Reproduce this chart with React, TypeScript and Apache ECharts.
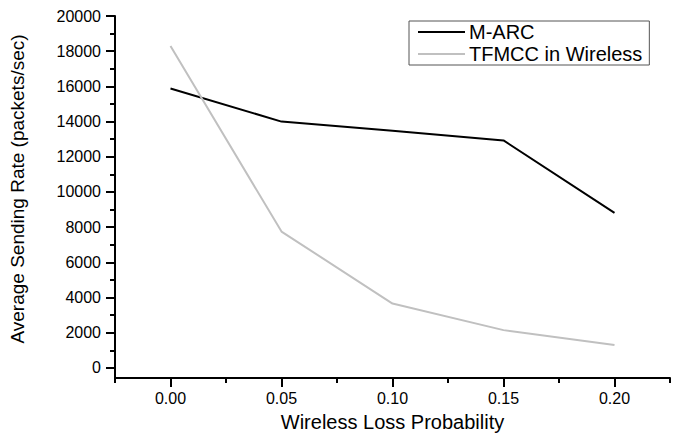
import React, { useEffect, useRef } from "react";
import * as echarts from "echarts";

const xValues = [0.0, 0.05, 0.1, 0.15, 0.2];
const marc = [15880, 14000, 13480, 12930, 8810];
const tfmcc = [18300, 7750, 3660, 2150, 1300];
const xMajor = [0, 0.05, 0.1, 0.15, 0.2];
const xMinor = [-0.025, 0.025, 0.075, 0.125, 0.175, 0.225];
const yMajor = [0, 2000, 4000, 6000, 8000, 10000, 12000, 14000, 16000, 18000, 20000];
const yMinor = [1000, 3000, 5000, 7000, 9000, 11000, 13000, 15000, 17000, 19000];

const FONT = "Liberation Sans, Arial, sans-serif";

export default function App() {
  const ref = useRef<HTMLDivElement>(null);
  useEffect(() => {
    if (!ref.current) return;
    const chart = echarts.init(ref.current, null, { renderer: "svg" });
    const axisLine = { show: true, onZero: false, lineStyle: { color: "#000", width: 2 } };
    const xMin = -0.025;
    const xMax = 0.225;
    const yMin = -570;
    const yMax = 20000;
    chart.setOption({
      animation: false,
      backgroundColor: "#fff",
      grid: { left: 115, right: 3, top: 16, bottom: 56, containLabel: false, outerBoundsMode: "none" },
      legend: {
        orient: "vertical",
        left: 409,
        top: 21,
        padding: [1, 7, 1, 9],
        borderColor: "#555",
        borderWidth: 1,
        icon: "rect",
        itemWidth: 47,
        itemHeight: 2,
        itemGap: 2,
        textStyle: { fontFamily: FONT, fontSize: 20, color: "#000", lineHeight: 19.5, padding: [0, 0, 0, -1] },
        data: ["M-ARC", "TFMCC in Wireless"],
      },
      xAxis: [
        {
          type: "value",
          min: xMin,
          max: xMax,
          axisLine,
          splitLine: { show: false },
          axisTick: { show: true, customValues: xMajor, length: 9, lineStyle: { color: "#000", width: 2 } },
          axisLabel: {
            customValues: xMajor,
            formatter: (v: number) => v.toFixed(2),
            fontFamily: FONT,
            fontSize: 16,
            color: "#000",
            margin: 12,
          },
          name: "Wireless Loss Probability",
          nameLocation: "middle",
          nameGap: 34,
          nameTextStyle: { fontFamily: FONT, fontSize: 20, lineHeight: 20, color: "#000" },
        },
        {
          type: "value",
          position: "bottom",
          min: xMin,
          max: xMax,
          axisLine: { show: false, onZero: false },
          splitLine: { show: false },
          axisTick: { show: true, customValues: xMinor, length: 5, lineStyle: { color: "#000", width: 2 } },
          axisLabel: { show: false },
        },
      ],
      yAxis: [
        {
          type: "value",
          min: yMin,
          max: yMax,
          axisLine,
          splitLine: { show: false },
          axisTick: { show: true, customValues: yMajor, length: 9, lineStyle: { color: "#000", width: 2 } },
          axisLabel: {
            customValues: yMajor,
            formatter: (v: number) => String(v),
            fontFamily: FONT,
            fontSize: 16,
            color: "#000",
            margin: 14,
          },
          name: "Average Sending Rate (packets/sec)",
          nameLocation: "middle",
          nameGap: 88,
          nameTextStyle: { fontFamily: FONT, fontSize: 19, color: "#000", padding: [0, 0, 0, 16] },
        },
        {
          type: "value",
          position: "left",
          min: yMin,
          max: yMax,
          axisLine: { show: false, onZero: false },
          splitLine: { show: false },
          axisTick: { show: true, customValues: yMinor, length: 5, lineStyle: { color: "#000", width: 2 } },
          axisLabel: { show: false },
        },
      ],
      series: [
        {
          name: "M-ARC",
          type: "line",
          symbol: "none",
          xAxisIndex: 0,
          yAxisIndex: 0,
          data: xValues.map((x, i) => [x, marc[i]]),
          lineStyle: { color: "#000", width: 2 },
          itemStyle: { color: "#000" },
        },
        {
          name: "TFMCC in Wireless",
          type: "line",
          symbol: "none",
          xAxisIndex: 0,
          yAxisIndex: 0,
          data: xValues.map((x, i) => [x, tfmcc[i]]),
          lineStyle: { color: "#c0c0c0", width: 2 },
          itemStyle: { color: "#c0c0c0" },
        },
      ],
    });
    return () => chart.dispose();
  }, []);
  return <div ref={ref} style={{ width: 673, height: 434, position: "absolute", left: 0, top: 0 }} />;
}
